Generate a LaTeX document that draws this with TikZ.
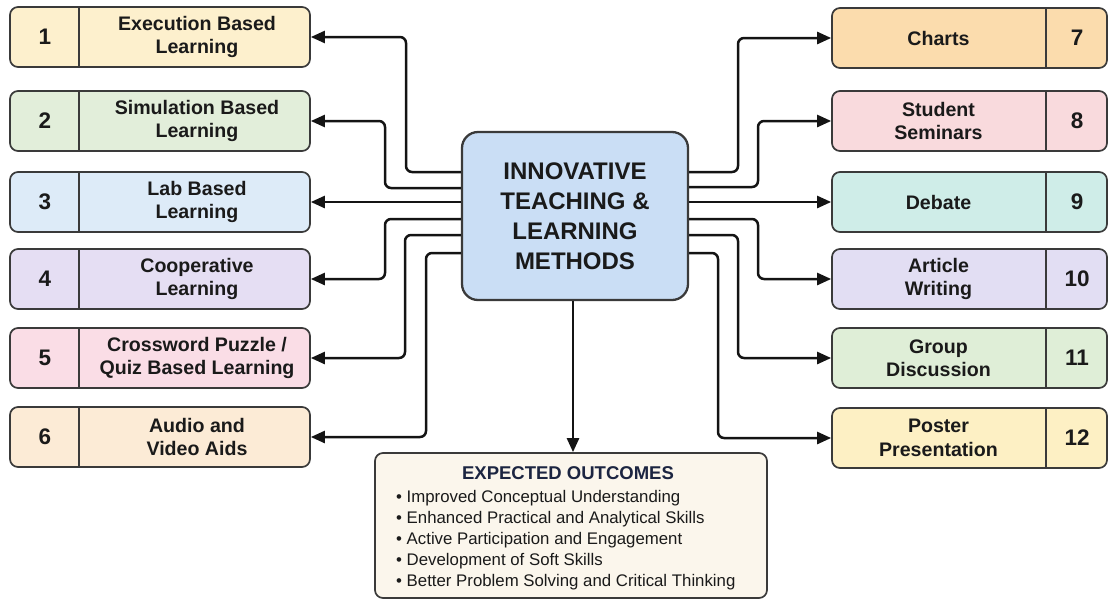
\documentclass[tikz,border=0pt]{standalone}
\usepackage{fontspec}
\setmainfont{Liberation Sans}
\usetikzlibrary{arrows.meta}
\definecolor{bordc}{HTML}{3A3A3A}
\definecolor{txt}{HTML}{1A1A1A}
\definecolor{navy}{HTML}{1C2541}
\definecolor{cA}{HTML}{FDF0CD}
\definecolor{cB}{HTML}{E2EEDA}
\definecolor{cC}{HTML}{DDEBF8}
\definecolor{cD}{HTML}{E5DEF3}
\definecolor{cE}{HTML}{FADDE6}
\definecolor{cF}{HTML}{FCEBD6}
\definecolor{cG}{HTML}{FBDCAD}
\definecolor{cH}{HTML}{F9DADD}
\definecolor{cI}{HTML}{CFEDE8}
\definecolor{cJ}{HTML}{E2DEF3}
\definecolor{cK}{HTML}{DFEED7}
\definecolor{cL}{HTML}{FDF0C4}
\definecolor{cen}{HTML}{CADEF5}
\definecolor{ofill}{HTML}{FBF6EC}
\tikzset{
  box/.style={draw=bordc, line width=1.7pt, rounded corners=8pt, minimum width=300pt, minimum height=60pt, inner sep=0pt},
  rbox/.style={box, minimum width=275pt},
  lbl/.style={font=\fontsize{19.6}{23.5}\selectfont\bfseries, align=center, text=txt, inner sep=0pt},
  num/.style={font=\fontsize{22.5}{26}\selectfont\bfseries, text=txt, inner sep=0pt},
  divline/.style={draw=bordc, line width=1.4pt},
  conn/.style={draw=black!92, line width=2.5pt, rounded corners=6pt, -{Triangle[length=14pt,width=12pt]}}
}
\begin{document}
\begin{tikzpicture}[x=1pt,y=-1pt]
\useasboundingbox (0,0) rectangle (1110,600);

% centre box
\node[draw=bordc, line width=2.3pt, rounded corners=16pt, fill=cen, minimum width=226pt, minimum height=168pt,
      font=\fontsize{24}{30}\selectfont\bfseries, text=txt, align=center] (C) at (575,216)
  {INNOVATIVE\\TEACHING \&\\LEARNING\\METHODS};

% left boxes
\foreach \i/\y/\c/\t in {1/37/cA/{Execution Based\\Learning},
                         2/121/cB/{Simulation Based\\Learning},
                         3/202/cC/{Lab Based\\Learning},
                         4/279/cD/{Cooperative\\Learning},
                         5/358/cE/{Crossword Puzzle /\\Quiz Based Learning},
                         6/437/cF/{Audio and\\Video Aids}}{
  \node[box, fill=\c] (L\i) at (160,\y) {};
  \node[num] (LN\i) at (45,\y) {\i};
  \node[lbl] (LT\i) at (197,\y) {\t};
  \draw[divline] ([xshift=70pt]L\i.north west) -- ([xshift=70pt]L\i.south west);
}

% right boxes
\foreach \i/\y/\c/\t in {7/38/cG/{Charts},
                         8/121/cH/{Student\\Seminars},
                         9/202/cI/{Debate},
                         10/279/cJ/{Article\\Writing},
                         11/358/cK/{Group\\Discussion},
                         12/438/cL/{Poster\\Presentation}}{
  \node[rbox, fill=\c] (R\i) at (969.5,\y) {};
  \node[num] (RN\i) at (1077,\y) {\i};
  \node[lbl] (RT\i) at (938.5,\y) {\t};
  \draw[divline] ([xshift=-62pt]R\i.north east) -- ([xshift=-62pt]R\i.south east);
}

% left connectors
\draw[conn] (C.west |- 0,172) -| (406,0 |- L1.east) -- (L1.east);
\draw[conn] (C.west |- 0,188) -| (385,0 |- L2.east) -- (L2.east);
\draw[conn] (C.west |- L3.east) -- (L3.east);
\draw[conn] (C.west |- 0,219) -| (385,0 |- L4.east) -- (L4.east);
\draw[conn] (C.west |- 0,235) -| (405,0 |- L5.east) -- (L5.east);
\draw[conn] (C.west |- 0,253) -| (426,0 |- L6.east) -- (L6.east);

% right connectors
\draw[conn] (C.east |- 0,172) -| (738,0 |- R7.west) -- (R7.west);
\draw[conn] (C.east |- 0,187) -| (758,0 |- R8.west) -- (R8.west);
\draw[conn] (C.east |- R9.west) -- (R9.west);
\draw[conn] (C.east |- 0,219) -| (758,0 |- R10.west) -- (R10.west);
\draw[conn] (C.east |- 0,235) -| (738,0 |- R11.west) -- (R11.west);
\draw[conn] (C.east |- 0,253) -| (718,0 |- R12.west) -- (R12.west);

% outcomes
\node[draw=bordc, line width=1.7pt, rounded corners=8pt, fill=ofill, minimum width=392pt, minimum height=145pt, inner sep=0pt] (O) at (571,525.5) {};
\node[font=\fontsize{18.5}{20}\selectfont\bfseries, text=navy, inner sep=0pt] (OT) at (568,473) {EXPECTED OUTCOMES};
\node[font=\fontsize{16.8}{21}\selectfont, text=txt, align=left, anchor=west, inner sep=0pt] (OL) at (396,540.5)
  {\textbullet\ Improved Conceptual Understanding\\
   \textbullet\ Enhanced Practical and Analytical Skills\\
   \textbullet\ Active Participation and Engagement\\
   \textbullet\ Development of Soft Skills\\
   \textbullet\ Better Problem Solving and Critical Thinking};

\draw[conn] (C.south -| 573,0) -- (573,0 |- O.north);
\end{tikzpicture}
\end{document}
